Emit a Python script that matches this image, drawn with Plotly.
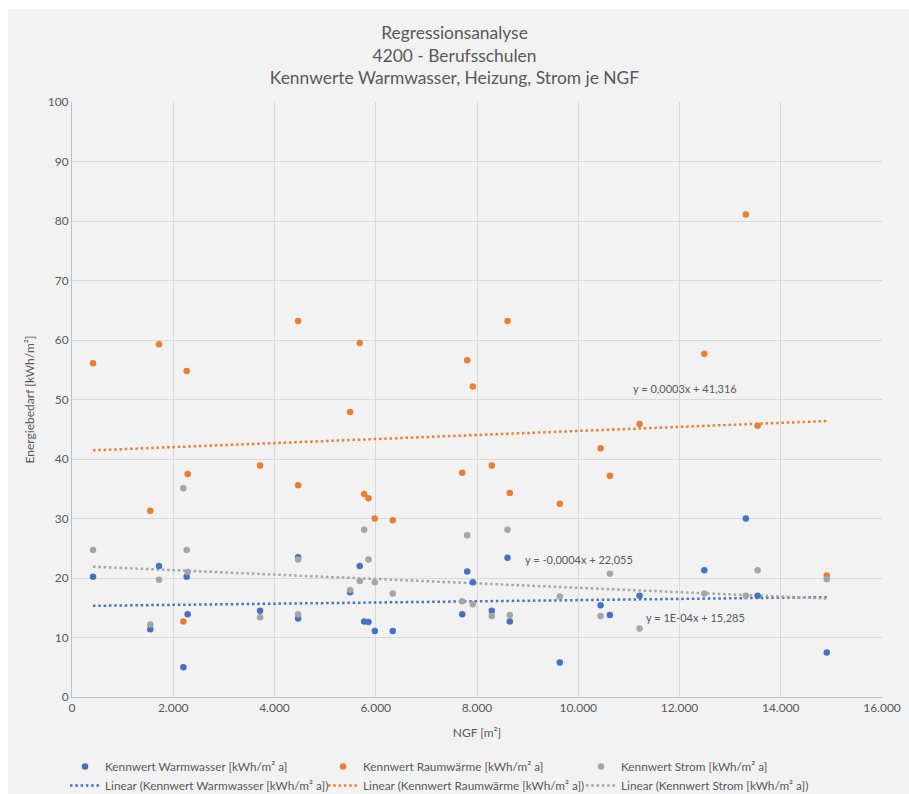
import plotly.graph_objects as go

# NGF je Gebäude [m²] und Kennwerte [kWh/m² a]
ngf = [415, 1547, 1719, 2200, 2265, 2285, 3715, 4466, 4466, 5494, 5684, 5771,
       5856, 5981, 6336, 7708, 7806, 7917, 8292, 8603, 8648, 9636, 10441,
       10625, 11211, 12490, 13310, 13543, 14909]
warmwasser = [20.2, 11.4, 22.0, 5.0, 20.2, 13.9, 14.5, 23.5, 13.2, 17.6, 22.0,
              12.7, 12.6, 11.1, 11.1, 13.9, 21.1, 19.3, 14.5, 23.4, 12.7, 5.8,
              15.4, 13.8, 17.0, 21.3, 30.0, 17.0, 7.5]
raumwaerme = [56.1, 31.3, 59.3, 12.7, 54.8, 37.5, 38.9, 63.2, 35.6, 47.9, 59.5,
              34.1, 33.4, 30.0, 29.7, 37.7, 56.6, 52.2, 38.9, 63.2, 34.3, 32.5,
              41.8, 37.2, 45.9, 57.7, 81.1, 45.6, 20.4]
strom = [24.7, 12.2, 19.7, 35.1, 24.7, 21.0, 13.4, 23.1, 13.9, 18.0, 19.5,
         28.1, 23.1, 19.3, 17.4, 16.1, 27.2, 15.6, 13.6, 28.1, 13.8, 16.9,
         13.6, 20.7, 11.5, 17.4, 17.0, 21.3, 19.8]

series_names = ["Kennwert Warmwasser [kWh/m² a]",
                "Kennwert Raumwärme [kWh/m² a]",
                "Kennwert Strom [kWh/m² a]"]
series_values = [warmwasser, raumwaerme, strom]
colors = ["#4472C4", "#ED7D31", "#A5A5A5"]

# Lineare Trends (Steigung, Achsenabschnitt) und ihre Gleichungen
trend_slope = [0.0001, 0.00034, -0.00037]
trend_intercept = [15.285, 41.316, 22.055]
trend_labels = ["y = 1E-04x + 15,285",
                "y = 0,0003x + 41,316",
                "y = -0,0004x + 22,055"]
label_pos = [(12322, 13.3), (12111, 51.9), (10020, 23.1)]

title_lines = ["Regressionsanalyse", "4200 - Berufsschulen",
               "Kennwerte Warmwasser, Heizung, Strom je NGF"]

txt = "#595959"
font = "Lato, 'Open Sans', sans-serif"

fig = go.Figure()

# Trendlinien zuerst, damit die Punkte darüber liegen
x_lo, x_hi = min(ngf), max(ngf)
for name, col, m, b in zip(series_names, colors, trend_slope, trend_intercept):
    fig.add_trace(go.Scatter(
        x=[x_lo, x_hi], y=[m * x_lo + b, m * x_hi + b], mode="lines",
        name=f"Linear ({name})",
        line=dict(color=col, width=2.5, dash="2.5px,2.8px"),
    ))

for name, vals, col in zip(series_names, series_values, colors):
    fig.add_trace(go.Scatter(
        x=ngf, y=vals, mode="markers", name=name,
        marker=dict(color=col, size=6.5, line=dict(width=0)),
    ))

legend_rank = [4, 5, 6, 1, 2, 3]
for tr, rank in zip(fig.data, legend_rank):
    tr.legendrank = rank

for text, (ax, ay) in zip(trend_labels, label_pos):
    fig.add_annotation(x=ax, y=ay, text=text, showarrow=False,
                       xanchor="center", yanchor="middle",
                       font=dict(size=11, color=txt, family=font))

fig.update_layout(
    width=909, height=794,
    margin=dict(l=72, r=27, t=102, b=97, autoexpand=False),
    paper_bgcolor="white",
    plot_bgcolor="#F2F2F2",
    separators=",.",
    font=dict(family=font, color=txt, size=12),
    title=dict(text="<br>".join(title_lines), x=0.5, xanchor="center",
               y=1 - 39 / 794, yanchor="top",
               font=dict(size=17.4, color=txt, family=font)),
    showlegend=True,
    legend=dict(orientation="h", xref="container", yref="container",
                x=65 / 909, y=1 - 752 / 794, xanchor="left", yanchor="top",
                entrywidth=213, entrywidthmode="pixels",
                font=dict(size=11.8, color=txt, family=font),
                traceorder="normal", bgcolor="rgba(0,0,0,0)",
                tracegroupgap=0, itemwidth=30),
    shapes=[dict(type="rect", xref="paper", yref="paper",
                 x0=-64 / 810, x1=1 + 27 / 810, y0=-97 / 595, y1=1 + 93 / 595,
                 fillcolor="#F2F2F2", line=dict(width=0), layer="below")],
)

fig.update_xaxes(
    range=[0, 16000], dtick=2000, tickformat=",d",
    showgrid=True, gridcolor="#D9D9D9", gridwidth=1,
    showline=True, linecolor="#BFBFBF", linewidth=1, mirror=False,
    zeroline=False, ticks="", tickfont=dict(size=12, color=txt),
    title=dict(text="NGF [m²]", font=dict(size=12, color=txt), standoff=14),
)
fig.update_yaxes(
    range=[0, 100], dtick=10,
    showgrid=True, gridcolor="#D9D9D9", gridwidth=1,
    showline=True, linecolor="#BFBFBF", linewidth=1,
    zeroline=False, ticks="", tickfont=dict(size=12, color=txt),
    title=dict(text="Energiebedarf [kWh/m²]", font=dict(size=12, color=txt),
               standoff=10),
)

fig.write_html("out.html")
